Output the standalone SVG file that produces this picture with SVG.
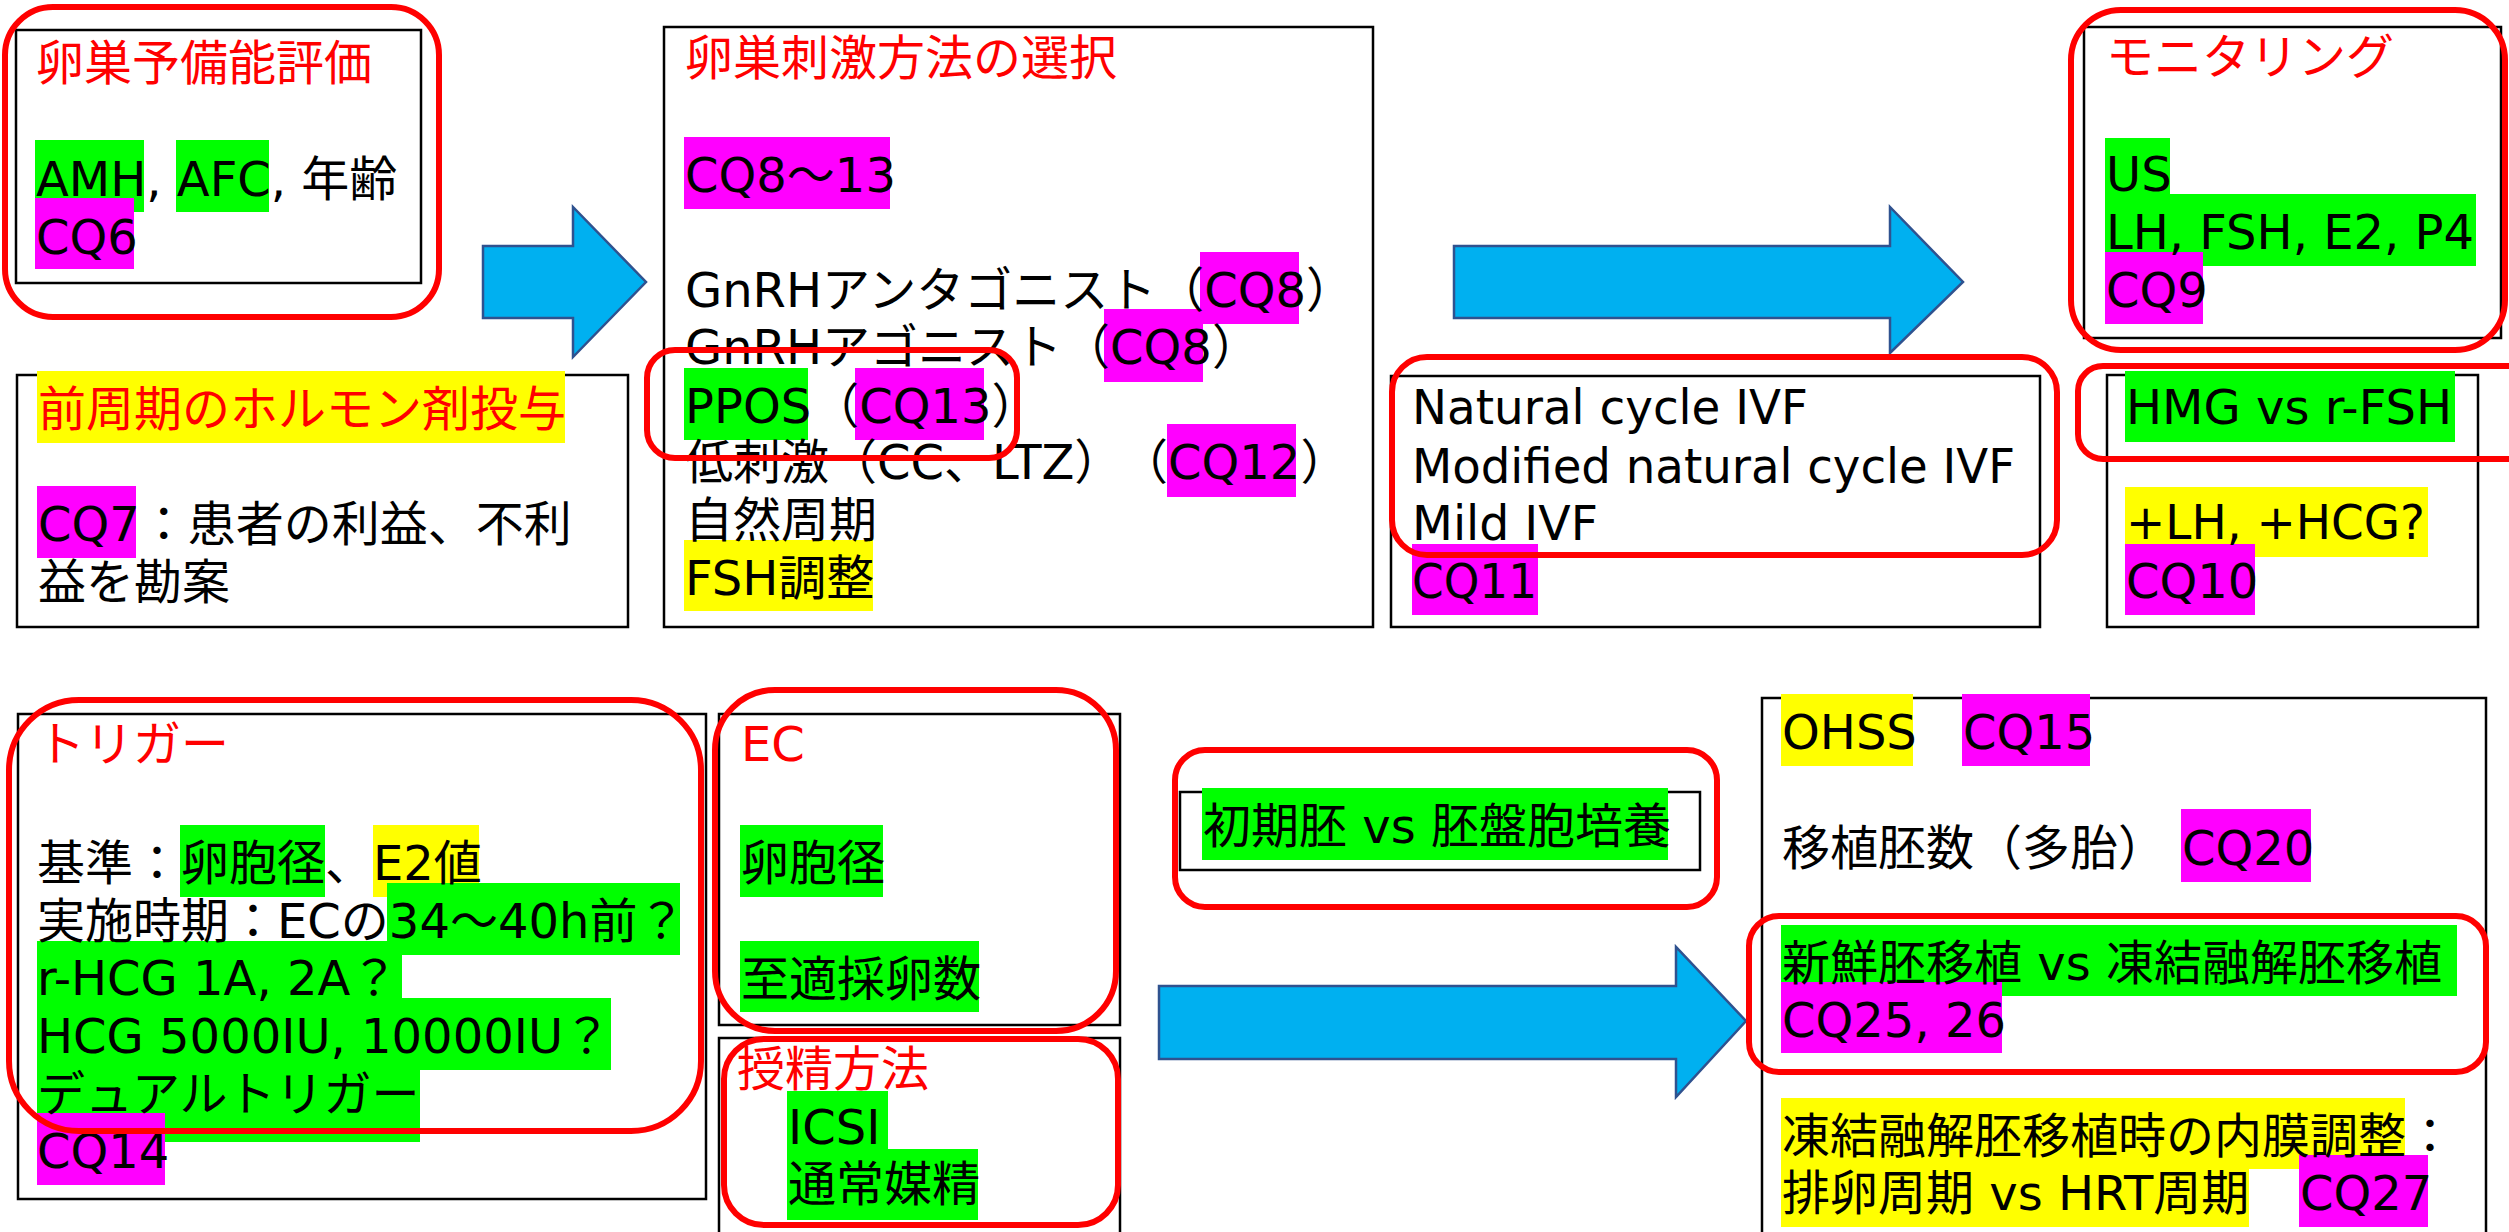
<svg xmlns="http://www.w3.org/2000/svg" width="2509" height="1232" viewBox="0 0 2509 1232">
<style>
.t{font-family:"DejaVu Sans","Noto Sans CJK JP",sans-serif;font-size:48px;fill:#000}
.r{fill:#FF0000}
.bx{fill:none;stroke:#000;stroke-width:2.5}
.rr{fill:none;stroke:#FF0000;stroke-width:6}
.g{fill:#00FF00}.m{fill:#FF00FF}.y{fill:#FFFF00}
.ar{fill:#00B0F0;stroke:#2F528F;stroke-width:2.5;stroke-linejoin:miter}
</style>
<rect width="2509" height="1232" fill="#fff"/>

<g id="connectors">
<polygon class="ar" points="483,246 573,246 573,207 646,282 573,357 573,318 483,318"/>
<polygon class="ar" points="1454,246 1890,246 1890,207 1963,282 1890,353 1890,318 1454,318"/>
<polygon class="ar" points="1159,986 1676,986 1676,947 1746,1021 1676,1097 1676,1059 1159,1059"/>
</g>

<g id="node-ovarian-reserve">
<rect class="bx" x="16" y="30" width="405" height="253"/>
<rect class="g" x="35" y="140" width="109" height="72"/>
<rect class="g" x="176" y="140" width="93" height="72"/>
<rect class="m" x="35" y="198" width="99" height="71"/>
<text class="t r" x="36" y="80">卵巣予備能評価</text>
<text class="t" x="36" y="196">AMH, AFC, 年齢</text>
<text class="t" x="36" y="254">CQ6</text>
</g>

<g id="node-prev-cycle">
<rect class="bx" x="17" y="375" width="611" height="252"/>
<rect class="y" x="37" y="371" width="528" height="72"/>
<rect class="m" x="37" y="486" width="99" height="72"/>
<text class="t r" x="38" y="426">前周期のホルモン剤投与</text>
<text class="t" x="38" y="541">CQ7：患者の利益、不利</text>
<text class="t" x="38" y="599">益を勘案</text>
</g>

<g id="node-stimulation">
<rect class="bx" x="664" y="27" width="709" height="600"/>
<rect class="m" x="684" y="137" width="206" height="72"/>
<rect class="m" x="1200" y="252" width="99" height="72"/>
<rect class="m" x="1104" y="309" width="99" height="73"/>
<rect class="g" x="684" y="368" width="124" height="72"/>
<rect class="m" x="855" y="368" width="129" height="72"/>
<rect class="m" x="1167" y="424" width="129" height="73"/>
<rect class="y" x="684" y="540" width="189" height="71"/>
<text class="t r" x="685" y="75">卵巣刺激方法の選択</text>
<text class="t" x="685" y="192">CQ8～13</text>
<text class="t" x="685" y="307">GnRHアンタゴニスト（CQ8）</text>
<text class="t" x="685" y="364">GnRHアゴニスト（CQ8）</text>
<text class="t" x="685" y="423">PPOS（CQ13）</text>
<text class="t" x="685" y="479">低刺激（CC、LTZ）</text>
<text class="t" x="1120" y="479">（CQ12）</text>
<text class="t" x="685" y="537">自然周期</text>
<text class="t" x="685" y="595">FSH調整</text>
</g>

<g id="node-monitoring">
<rect class="bx" x="2084" y="27" width="417" height="311"/>
<rect class="g" x="2105" y="138" width="65" height="72"/>
<rect class="g" x="2105" y="194" width="371" height="72"/>
<rect class="m" x="2105" y="252" width="98" height="72"/>
<text class="t r" x="2106" y="74">モニタリング</text>
<text class="t" x="2106" y="191">US</text>
<text class="t" x="2106" y="249" textLength="368" lengthAdjust="spacingAndGlyphs">LH, FSH, E2, P4</text>
<text class="t" x="2106" y="307">CQ9</text>
</g>

<g id="node-natural">
<rect class="bx" x="1391" y="376" width="649" height="251"/>
<rect class="m" x="1412" y="544" width="126" height="71"/>
<text class="t" x="1412" y="424" textLength="396" lengthAdjust="spacingAndGlyphs">Natural cycle IVF</text>
<text class="t" x="1412" y="483" textLength="603" lengthAdjust="spacingAndGlyphs">Modified natural cycle IVF</text>
<text class="t" x="1412" y="540" textLength="186" lengthAdjust="spacingAndGlyphs">Mild IVF</text>
<text class="t" x="1412" y="598" textLength="125" lengthAdjust="spacingAndGlyphs">CQ11</text>
</g>

<g id="node-hmg">
<rect class="bx" x="2107" y="375" width="371" height="252"/>
<rect class="g" x="2125" y="371" width="330" height="71"/>
<rect class="y" x="2125" y="487" width="303" height="70"/>
<rect class="m" x="2125" y="544" width="130" height="71"/>
<text class="t" x="2126" y="424" textLength="326" lengthAdjust="spacingAndGlyphs">HMG vs r-FSH</text>
<text class="t" x="2126" y="539" textLength="299" lengthAdjust="spacingAndGlyphs">+LH, +HCG?</text>
<text class="t" x="2126" y="598">CQ10</text>
</g>

<g id="node-trigger">
<rect class="bx" x="18" y="714" width="688" height="485"/>
<rect class="g" x="180" y="825" width="145" height="72"/>
<rect class="y" x="373" y="825" width="106" height="72"/>
<rect class="g" x="387" y="883" width="293" height="72"/>
<rect class="g" x="37" y="941" width="365" height="72"/>
<rect class="g" x="37" y="998" width="574" height="72"/>
<rect class="g" x="37" y="1070" width="383" height="72"/>
<rect class="m" x="37" y="1113" width="128" height="72"/>
<text class="t r" x="37" y="761">トリガー</text>
<text class="t" x="37" y="880">基準：卵胞径、E2値</text>
<text class="t" x="37" y="938">実施時期：ECの34～40h前？</text>
<text class="t" x="37" y="995">r-HCG 1A, 2A？</text>
<text class="t" x="37" y="1053">HCG 5000IU, 10000IU？</text>
<text class="t" x="37" y="1111">デュアルトリガー</text>
<text class="t" x="37" y="1168">CQ14</text>
</g>

<g id="node-ec">
<rect class="bx" x="719" y="714" width="401" height="311"/>
<rect class="g" x="740" y="825" width="143" height="72"/>
<rect class="g" x="740" y="941" width="239" height="71"/>
<text class="t r" x="741" y="761">EC</text>
<text class="t" x="741" y="880">卵胞径</text>
<text class="t" x="741" y="996">至適採卵数</text>
</g>

<g id="node-insemination">
<rect class="bx" x="719" y="1038" width="401" height="210"/>
<rect class="g" x="787" y="1091" width="101" height="72"/>
<rect class="g" x="787" y="1149" width="191" height="71"/>
<text class="t r" x="737" y="1086">授精方法</text>
<text class="t" x="788" y="1144">ICSI</text>
<text class="t" x="788" y="1201">通常媒精</text>
</g>

<g id="node-culture">
<rect class="bx" x="1180" y="792" width="520" height="78"/>
<rect class="g" x="1202" y="788" width="466" height="72"/>
<text class="t" x="1203" y="843">初期胚 vs 胚盤胞培養</text>
</g>

<g id="node-transfer">
<rect class="bx" x="1762" y="698" width="724" height="550"/>
<rect class="y" x="1781" y="694" width="132" height="72"/>
<rect class="m" x="1962" y="694" width="128" height="72"/>
<rect class="m" x="2181" y="809" width="130" height="73"/>
<rect class="g" x="1781" y="925" width="676" height="71"/>
<rect class="m" x="1781" y="982" width="221" height="71"/>
<rect class="y" x="1781" y="1098" width="624" height="71"/>
<rect class="y" x="1781" y="1155" width="468" height="72"/>
<rect class="m" x="2299" y="1155" width="129" height="72"/>
<text class="t" x="1782" y="749">OHSS</text>
<text class="t" x="1963" y="749">CQ15</text>
<text class="t" x="1782" y="865">移植胚数（多胎）</text>
<text class="t" x="2182" y="865">CQ20</text>
<text class="t" x="1782" y="980">新鮮胚移植 vs 凍結融解胚移植</text>
<text class="t" x="1782" y="1037">CQ25, 26</text>
<text class="t" x="1782" y="1153">凍結融解胚移植時の内膜調整：</text>
<text class="t" x="1782" y="1210">排卵周期 vs HRT周期</text>
<text class="t" x="2300" y="1210">CQ27</text>
</g>

<g id="emphasis">
<rect class="rr" x="5" y="7" width="434" height="310" rx="48"/>
<rect class="rr" x="647" y="350" width="370" height="108" rx="28"/>
<rect class="rr" x="2071" y="10" width="434" height="340" rx="50"/>
<rect class="rr" x="1392" y="357" width="665" height="198" rx="35"/>
<rect class="rr" x="2078" y="366" width="470" height="93" rx="25"/>
<rect class="rr" x="9" y="700" width="692" height="431" rx="70"/>
<rect class="rr" x="715" y="690" width="401" height="341" rx="60"/>
<rect class="rr" x="724" y="1039" width="394" height="186" rx="40"/>
<rect class="rr" x="1175" y="750" width="542" height="157" rx="30"/>
<rect class="rr" x="1749" y="916" width="737" height="156" rx="30"/>
</g>
</svg>
